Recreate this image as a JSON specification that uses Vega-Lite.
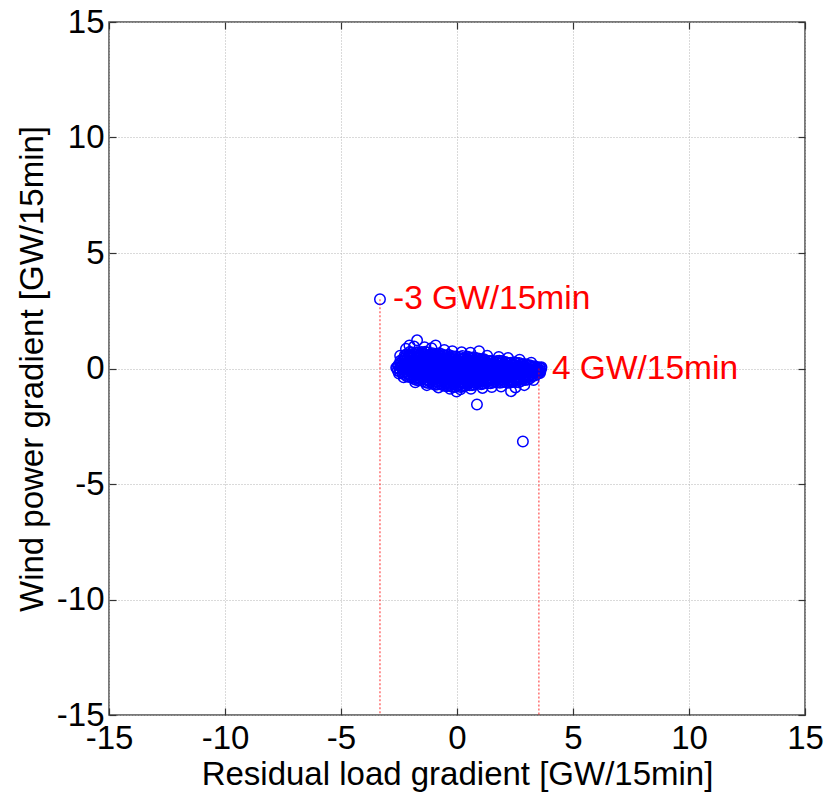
{
  "$schema": "https://vega.github.io/schema/vega-lite/v6.json",
  "width": 696,
  "height": 693,
  "autosize": {"type": "none"},
  "padding": {"left": 109, "top": 22, "right": 20, "bottom": 77},
  "background": "white",
  "config": {
    "view": {"stroke": "#4d4d4d", "strokeWidth": 1.5},
    "font": "Liberation Sans",
    "axis": {
      "labelFont": "Liberation Sans", "labelFontSize": 33, "labelColor": "black",
      "titleFont": "Liberation Sans", "titleFontSize": 33, "titleFontWeight": "normal", "titleColor": "black",
      "domain": false, "tickColor": "#333333", "tickSize": -7, "tickWidth": 1.2,
      "gridColor": "#b4b4b4", "gridDash": [1, 2], "gridWidth": 1,
      "labelOverlap": false, "labelFlush": false,
      "labelExpr": "'' + datum.value"
    }
  },
  "datasets": {
    "pts": [
      {"x":-2.55,"y":-0.1},{"x":-2.58,"y":0.02},{"x":-2.53,"y":0.14},
      {"x":-2.35,"y":-0.19},{"x":-2.32,"y":-0.07},{"x":-2.38,"y":0.05},{"x":-2.34,"y":0.17},{"x":-2.37,"y":0.29},{"x":-2.33,"y":0.41},
      {"x":-2.15,"y":-0.35},{"x":-2.12,"y":-0.23},{"x":-2.18,"y":-0.11},{"x":-2.14,"y":0.01},{"x":-2.17,"y":0.13},{"x":-2.13,"y":0.25},{"x":-2.16,"y":0.37},{"x":-2.12,"y":0.49},{"x":-2.18,"y":0.61},
      {"x":-1.95,"y":-0.39},{"x":-1.92,"y":-0.27},{"x":-1.98,"y":-0.15},{"x":-1.94,"y":-0.03},{"x":-1.97,"y":0.09},{"x":-1.93,"y":0.21},{"x":-1.96,"y":0.33},{"x":-1.92,"y":0.45},{"x":-1.98,"y":0.57},{"x":-1.95,"y":0.69},
      {"x":-1.75,"y":-0.5},{"x":-1.72,"y":-0.38},{"x":-1.78,"y":-0.26},{"x":-1.74,"y":-0.14},{"x":-1.77,"y":-0.02},{"x":-1.73,"y":0.1},{"x":-1.76,"y":0.22},{"x":-1.72,"y":0.34},{"x":-1.78,"y":0.46},{"x":-1.75,"y":0.58},{"x":-1.73,"y":0.7},
      {"x":-1.55,"y":-0.49},{"x":-1.52,"y":-0.37},{"x":-1.58,"y":-0.25},{"x":-1.54,"y":-0.13},{"x":-1.57,"y":-0.01},{"x":-1.53,"y":0.11},{"x":-1.56,"y":0.23},{"x":-1.52,"y":0.35},{"x":-1.58,"y":0.47},{"x":-1.55,"y":0.59},{"x":-1.53,"y":0.71},
      {"x":-1.35,"y":-0.6},{"x":-1.32,"y":-0.48},{"x":-1.38,"y":-0.36},{"x":-1.34,"y":-0.24},{"x":-1.37,"y":-0.12},{"x":-1.33,"y":0.0},{"x":-1.36,"y":0.12},{"x":-1.32,"y":0.24},{"x":-1.38,"y":0.36},{"x":-1.35,"y":0.48},{"x":-1.33,"y":0.6},{"x":-1.37,"y":0.72},
      {"x":-1.15,"y":-0.59},{"x":-1.12,"y":-0.47},{"x":-1.18,"y":-0.35},{"x":-1.14,"y":-0.23},{"x":-1.17,"y":-0.11},{"x":-1.13,"y":0.01},{"x":-1.16,"y":0.13},{"x":-1.12,"y":0.25},{"x":-1.18,"y":0.37},{"x":-1.15,"y":0.49},{"x":-1.13,"y":0.61},
      {"x":-0.95,"y":-0.7},{"x":-0.92,"y":-0.58},{"x":-0.98,"y":-0.46},{"x":-0.94,"y":-0.34},{"x":-0.97,"y":-0.22},{"x":-0.93,"y":-0.1},{"x":-0.96,"y":0.02},{"x":-0.92,"y":0.14},{"x":-0.98,"y":0.26},{"x":-0.95,"y":0.38},{"x":-0.93,"y":0.5},{"x":-0.97,"y":0.62},
      {"x":-0.75,"y":-0.66},{"x":-0.72,"y":-0.54},{"x":-0.78,"y":-0.42},{"x":-0.74,"y":-0.3},{"x":-0.77,"y":-0.18},{"x":-0.73,"y":-0.06},{"x":-0.76,"y":0.06},{"x":-0.72,"y":0.18},{"x":-0.78,"y":0.3},{"x":-0.75,"y":0.42},{"x":-0.73,"y":0.54},{"x":-0.77,"y":0.66},
      {"x":-0.55,"y":-0.75},{"x":-0.52,"y":-0.63},{"x":-0.58,"y":-0.51},{"x":-0.54,"y":-0.39},{"x":-0.57,"y":-0.27},{"x":-0.53,"y":-0.15},{"x":-0.56,"y":-0.03},{"x":-0.52,"y":0.09},{"x":-0.58,"y":0.21},{"x":-0.55,"y":0.33},{"x":-0.53,"y":0.45},{"x":-0.57,"y":0.57},
      {"x":-0.35,"y":-0.72},{"x":-0.32,"y":-0.6},{"x":-0.38,"y":-0.48},{"x":-0.34,"y":-0.36},{"x":-0.37,"y":-0.24},{"x":-0.33,"y":-0.12},{"x":-0.36,"y":0.0},{"x":-0.32,"y":0.12},{"x":-0.38,"y":0.24},{"x":-0.35,"y":0.36},{"x":-0.33,"y":0.48},{"x":-0.37,"y":0.6},
      {"x":-0.15,"y":-0.8},{"x":-0.12,"y":-0.68},{"x":-0.18,"y":-0.56},{"x":-0.14,"y":-0.44},{"x":-0.17,"y":-0.32},{"x":-0.13,"y":-0.2},{"x":-0.16,"y":-0.08},{"x":-0.12,"y":0.04},{"x":-0.18,"y":0.16},{"x":-0.15,"y":0.28},{"x":-0.13,"y":0.4},{"x":-0.17,"y":0.52},
      {"x":0.05,"y":-0.74},{"x":0.08,"y":-0.62},{"x":0.02,"y":-0.5},{"x":0.06,"y":-0.38},{"x":0.03,"y":-0.26},{"x":0.07,"y":-0.14},{"x":0.04,"y":-0.02},{"x":0.08,"y":0.1},{"x":0.02,"y":0.22},{"x":0.05,"y":0.34},{"x":0.07,"y":0.46},
      {"x":0.25,"y":-0.78},{"x":0.28,"y":-0.66},{"x":0.22,"y":-0.54},{"x":0.26,"y":-0.42},{"x":0.23,"y":-0.3},{"x":0.27,"y":-0.18},{"x":0.24,"y":-0.06},{"x":0.28,"y":0.06},{"x":0.22,"y":0.18},{"x":0.25,"y":0.3},{"x":0.27,"y":0.42},{"x":0.23,"y":0.54},
      {"x":0.45,"y":-0.69},{"x":0.48,"y":-0.57},{"x":0.42,"y":-0.45},{"x":0.46,"y":-0.33},{"x":0.43,"y":-0.21},{"x":0.47,"y":-0.09},{"x":0.44,"y":0.03},{"x":0.48,"y":0.15},{"x":0.42,"y":0.27},{"x":0.45,"y":0.39},{"x":0.47,"y":0.51},
      {"x":0.65,"y":-0.72},{"x":0.68,"y":-0.6},{"x":0.62,"y":-0.48},{"x":0.66,"y":-0.36},{"x":0.63,"y":-0.24},{"x":0.67,"y":-0.12},{"x":0.64,"y":0.0},{"x":0.68,"y":0.12},{"x":0.62,"y":0.24},{"x":0.65,"y":0.36},{"x":0.67,"y":0.48},
      {"x":0.85,"y":-0.64},{"x":0.88,"y":-0.52},{"x":0.82,"y":-0.4},{"x":0.86,"y":-0.28},{"x":0.83,"y":-0.16},{"x":0.87,"y":-0.04},{"x":0.84,"y":0.08},{"x":0.88,"y":0.2},{"x":0.82,"y":0.32},{"x":0.85,"y":0.44},
      {"x":1.05,"y":-0.68},{"x":1.08,"y":-0.56},{"x":1.02,"y":-0.44},{"x":1.06,"y":-0.32},{"x":1.03,"y":-0.2},{"x":1.07,"y":-0.08},{"x":1.04,"y":0.04},{"x":1.08,"y":0.16},{"x":1.02,"y":0.28},{"x":1.05,"y":0.4},
      {"x":1.25,"y":-0.6},{"x":1.28,"y":-0.48},{"x":1.22,"y":-0.36},{"x":1.26,"y":-0.24},{"x":1.23,"y":-0.12},{"x":1.27,"y":0.0},{"x":1.24,"y":0.12},{"x":1.28,"y":0.24},{"x":1.22,"y":0.36},
      {"x":1.45,"y":-0.64},{"x":1.48,"y":-0.52},{"x":1.42,"y":-0.4},{"x":1.46,"y":-0.28},{"x":1.43,"y":-0.16},{"x":1.47,"y":-0.04},{"x":1.44,"y":0.08},{"x":1.48,"y":0.2},{"x":1.42,"y":0.32},
      {"x":1.65,"y":-0.56},{"x":1.68,"y":-0.44},{"x":1.62,"y":-0.32},{"x":1.66,"y":-0.2},{"x":1.63,"y":-0.08},{"x":1.67,"y":0.04},{"x":1.64,"y":0.16},{"x":1.68,"y":0.28},
      {"x":1.85,"y":-0.62},{"x":1.88,"y":-0.5},{"x":1.82,"y":-0.38},{"x":1.86,"y":-0.26},{"x":1.83,"y":-0.14},{"x":1.87,"y":-0.02},{"x":1.84,"y":0.1},{"x":1.88,"y":0.22},{"x":1.82,"y":0.34},
      {"x":2.05,"y":-0.56},{"x":2.08,"y":-0.44},{"x":2.02,"y":-0.32},{"x":2.06,"y":-0.2},{"x":2.03,"y":-0.08},{"x":2.07,"y":0.04},{"x":2.04,"y":0.16},{"x":2.08,"y":0.28},
      {"x":2.25,"y":-0.62},{"x":2.28,"y":-0.5},{"x":2.22,"y":-0.38},{"x":2.26,"y":-0.26},{"x":2.23,"y":-0.14},{"x":2.27,"y":-0.02},{"x":2.24,"y":0.1},{"x":2.28,"y":0.22},
      {"x":2.45,"y":-0.56},{"x":2.48,"y":-0.44},{"x":2.42,"y":-0.32},{"x":2.46,"y":-0.2},{"x":2.43,"y":-0.08},{"x":2.47,"y":0.04},{"x":2.44,"y":0.16},{"x":2.48,"y":0.27},
      {"x":2.65,"y":-0.6},{"x":2.68,"y":-0.48},{"x":2.62,"y":-0.36},{"x":2.66,"y":-0.24},{"x":2.63,"y":-0.12},{"x":2.67,"y":0.0},{"x":2.64,"y":0.12},{"x":2.68,"y":0.24},
      {"x":2.85,"y":-0.49},{"x":2.88,"y":-0.37},{"x":2.82,"y":-0.25},{"x":2.86,"y":-0.13},{"x":2.83,"y":-0.01},{"x":2.87,"y":0.11},{"x":2.84,"y":0.2},
      {"x":3.05,"y":-0.48},{"x":3.08,"y":-0.36},{"x":3.02,"y":-0.24},{"x":3.06,"y":-0.12},{"x":3.03,"y":0.0},{"x":3.07,"y":0.12},
      {"x":3.25,"y":-0.32},{"x":3.28,"y":-0.2},{"x":3.22,"y":-0.08},{"x":3.26,"y":0.04},{"x":3.23,"y":0.1},
      {"x":3.45,"y":-0.25},{"x":3.48,"y":-0.13},{"x":3.42,"y":-0.01},{"x":3.46,"y":0.05},
      {"x":3.6,"y":-0.1},{"x":3.62,"y":0.0},
      {"x":-2.45,"y":-0.14},{"x":-2.47,"y":-0.02},{"x":-2.43,"y":0.1},{"x":-2.46,"y":0.22},{"x":-2.44,"y":0.34},
      {"x":-2.25,"y":-0.27},{"x":-2.27,"y":-0.15},{"x":-2.23,"y":-0.03},{"x":-2.26,"y":0.09},{"x":-2.24,"y":0.21},{"x":-2.27,"y":0.33},{"x":-2.23,"y":0.45},{"x":-2.25,"y":0.57},
      {"x":-2.05,"y":-0.37},{"x":-2.07,"y":-0.25},{"x":-2.03,"y":-0.13},{"x":-2.06,"y":-0.01},{"x":-2.04,"y":0.11},{"x":-2.07,"y":0.23},{"x":-2.03,"y":0.35},{"x":-2.05,"y":0.47},{"x":-2.06,"y":0.59},{"x":-2.04,"y":0.71},
      {"x":-1.85,"y":-0.45},{"x":-1.87,"y":-0.33},{"x":-1.83,"y":-0.21},{"x":-1.86,"y":-0.09},{"x":-1.84,"y":0.03},{"x":-1.87,"y":0.15},{"x":-1.83,"y":0.27},{"x":-1.85,"y":0.39},{"x":-1.86,"y":0.51},{"x":-1.84,"y":0.63},
      {"x":-1.65,"y":-0.51},{"x":-1.67,"y":-0.39},{"x":-1.63,"y":-0.27},{"x":-1.66,"y":-0.15},{"x":-1.64,"y":-0.03},{"x":-1.67,"y":0.09},{"x":-1.63,"y":0.21},{"x":-1.65,"y":0.33},{"x":-1.66,"y":0.45},{"x":-1.64,"y":0.57},{"x":-1.65,"y":0.69},
      {"x":-1.45,"y":-0.55},{"x":-1.47,"y":-0.43},{"x":-1.43,"y":-0.31},{"x":-1.46,"y":-0.19},{"x":-1.44,"y":-0.07},{"x":-1.47,"y":0.05},{"x":-1.43,"y":0.17},{"x":-1.45,"y":0.29},{"x":-1.46,"y":0.41},{"x":-1.44,"y":0.53},{"x":-1.45,"y":0.65},
      {"x":-1.25,"y":-0.63},{"x":-1.27,"y":-0.51},{"x":-1.23,"y":-0.39},{"x":-1.26,"y":-0.27},{"x":-1.24,"y":-0.15},{"x":-1.27,"y":-0.03},{"x":-1.23,"y":0.09},{"x":-1.25,"y":0.21},{"x":-1.26,"y":0.33},{"x":-1.24,"y":0.45},{"x":-1.25,"y":0.57},{"x":-1.26,"y":0.69},
      {"x":-1.05,"y":-0.66},{"x":-1.07,"y":-0.54},{"x":-1.03,"y":-0.42},{"x":-1.06,"y":-0.3},{"x":-1.04,"y":-0.18},{"x":-1.07,"y":-0.06},{"x":-1.03,"y":0.06},{"x":-1.05,"y":0.18},{"x":-1.06,"y":0.3},{"x":-1.04,"y":0.42},{"x":-1.05,"y":0.54},{"x":-1.06,"y":0.66},
      {"x":-0.85,"y":-0.69},{"x":-0.87,"y":-0.57},{"x":-0.83,"y":-0.45},{"x":-0.86,"y":-0.33},{"x":-0.84,"y":-0.21},{"x":-0.87,"y":-0.09},{"x":-0.83,"y":0.03},{"x":-0.85,"y":0.15},{"x":-0.86,"y":0.27},{"x":-0.84,"y":0.39},{"x":-0.85,"y":0.51},{"x":-0.86,"y":0.63},
      {"x":-0.65,"y":-0.7},{"x":-0.67,"y":-0.58},{"x":-0.63,"y":-0.46},{"x":-0.66,"y":-0.34},{"x":-0.64,"y":-0.22},{"x":-0.67,"y":-0.1},{"x":-0.63,"y":0.02},{"x":-0.65,"y":0.14},{"x":-0.66,"y":0.26},{"x":-0.64,"y":0.38},{"x":-0.65,"y":0.5},{"x":-0.66,"y":0.62},
      {"x":-0.45,"y":-0.77},{"x":-0.47,"y":-0.65},{"x":-0.43,"y":-0.53},{"x":-0.46,"y":-0.41},{"x":-0.44,"y":-0.29},{"x":-0.47,"y":-0.17},{"x":-0.43,"y":-0.05},{"x":-0.45,"y":0.07},{"x":-0.46,"y":0.19},{"x":-0.44,"y":0.31},{"x":-0.45,"y":0.43},{"x":-0.46,"y":0.55},
      {"x":-0.25,"y":-0.78},{"x":-0.27,"y":-0.66},{"x":-0.23,"y":-0.54},{"x":-0.26,"y":-0.42},{"x":-0.24,"y":-0.3},{"x":-0.27,"y":-0.18},{"x":-0.23,"y":-0.06},{"x":-0.25,"y":0.06},{"x":-0.26,"y":0.18},{"x":-0.24,"y":0.3},{"x":-0.25,"y":0.42},{"x":-0.26,"y":0.54},
      {"x":-0.05,"y":-0.79},{"x":-0.07,"y":-0.67},{"x":-0.03,"y":-0.55},{"x":-0.06,"y":-0.43},{"x":-0.04,"y":-0.31},{"x":-0.07,"y":-0.19},{"x":-0.03,"y":-0.07},{"x":-0.05,"y":0.05},{"x":-0.06,"y":0.17},{"x":-0.04,"y":0.29},{"x":-0.05,"y":0.41},{"x":-0.06,"y":0.52},
      {"x":0.15,"y":-0.8},{"x":0.13,"y":-0.68},{"x":0.17,"y":-0.56},{"x":0.14,"y":-0.44},{"x":0.16,"y":-0.32},{"x":0.13,"y":-0.2},{"x":0.17,"y":-0.08},{"x":0.15,"y":0.04},{"x":0.14,"y":0.16},{"x":0.16,"y":0.28},{"x":0.15,"y":0.4},{"x":0.14,"y":0.5},
      {"x":0.35,"y":-0.75},{"x":0.33,"y":-0.63},{"x":0.37,"y":-0.51},{"x":0.34,"y":-0.39},{"x":0.36,"y":-0.27},{"x":0.33,"y":-0.15},{"x":0.37,"y":-0.03},{"x":0.35,"y":0.09},{"x":0.34,"y":0.21},{"x":0.36,"y":0.33},{"x":0.35,"y":0.45},
      {"x":0.55,"y":-0.73},{"x":0.53,"y":-0.61},{"x":0.57,"y":-0.49},{"x":0.54,"y":-0.37},{"x":0.56,"y":-0.25},{"x":0.53,"y":-0.13},{"x":0.57,"y":-0.01},{"x":0.55,"y":0.11},{"x":0.54,"y":0.23},{"x":0.56,"y":0.35},{"x":0.55,"y":0.47},
      {"x":0.75,"y":-0.7},{"x":0.73,"y":-0.58},{"x":0.77,"y":-0.46},{"x":0.74,"y":-0.34},{"x":0.76,"y":-0.22},{"x":0.73,"y":-0.1},{"x":0.77,"y":0.02},{"x":0.75,"y":0.14},{"x":0.74,"y":0.26},{"x":0.76,"y":0.38},{"x":0.75,"y":0.48},
      {"x":0.95,"y":-0.66},{"x":0.93,"y":-0.54},{"x":0.97,"y":-0.42},{"x":0.94,"y":-0.3},{"x":0.96,"y":-0.18},{"x":0.93,"y":-0.06},{"x":0.97,"y":0.06},{"x":0.95,"y":0.18},{"x":0.94,"y":0.3},{"x":0.96,"y":0.42},
      {"x":1.15,"y":-0.65},{"x":1.13,"y":-0.53},{"x":1.17,"y":-0.41},{"x":1.14,"y":-0.29},{"x":1.16,"y":-0.17},{"x":1.13,"y":-0.05},{"x":1.17,"y":0.07},{"x":1.15,"y":0.19},{"x":1.14,"y":0.31},{"x":1.16,"y":0.4},
      {"x":1.35,"y":-0.63},{"x":1.33,"y":-0.51},{"x":1.37,"y":-0.39},{"x":1.34,"y":-0.27},{"x":1.36,"y":-0.15},{"x":1.33,"y":-0.03},{"x":1.37,"y":0.09},{"x":1.35,"y":0.21},{"x":1.34,"y":0.33},
      {"x":1.55,"y":-0.61},{"x":1.53,"y":-0.49},{"x":1.57,"y":-0.37},{"x":1.54,"y":-0.25},{"x":1.56,"y":-0.13},{"x":1.53,"y":-0.01},{"x":1.57,"y":0.11},{"x":1.55,"y":0.23},{"x":1.54,"y":0.33},
      {"x":1.75,"y":-0.6},{"x":1.73,"y":-0.48},{"x":1.77,"y":-0.36},{"x":1.74,"y":-0.24},{"x":1.76,"y":-0.12},{"x":1.73,"y":0.0},{"x":1.77,"y":0.12},{"x":1.75,"y":0.24},{"x":1.74,"y":0.33},
      {"x":1.95,"y":-0.6},{"x":1.93,"y":-0.48},{"x":1.97,"y":-0.36},{"x":1.94,"y":-0.24},{"x":1.96,"y":-0.12},{"x":1.93,"y":0.0},{"x":1.97,"y":0.12},{"x":1.95,"y":0.24},{"x":1.94,"y":0.32},
      {"x":2.15,"y":-0.6},{"x":2.13,"y":-0.47},{"x":2.17,"y":-0.35},{"x":2.14,"y":-0.23},{"x":2.16,"y":-0.11},{"x":2.13,"y":0.01},{"x":2.17,"y":0.13},{"x":2.15,"y":0.25},
      {"x":2.35,"y":-0.6},{"x":2.33,"y":-0.47},{"x":2.37,"y":-0.35},{"x":2.34,"y":-0.23},{"x":2.36,"y":-0.11},{"x":2.33,"y":0.01},{"x":2.37,"y":0.13},{"x":2.35,"y":0.25},
      {"x":2.55,"y":-0.59},{"x":2.53,"y":-0.46},{"x":2.57,"y":-0.34},{"x":2.54,"y":-0.22},{"x":2.56,"y":-0.1},{"x":2.53,"y":0.02},{"x":2.57,"y":0.14},{"x":2.55,"y":0.25},
      {"x":2.75,"y":-0.55},{"x":2.73,"y":-0.43},{"x":2.77,"y":-0.31},{"x":2.74,"y":-0.19},{"x":2.76,"y":-0.07},{"x":2.73,"y":0.05},{"x":2.77,"y":0.17},
      {"x":2.95,"y":-0.5},{"x":2.93,"y":-0.38},{"x":2.97,"y":-0.26},{"x":2.94,"y":-0.14},{"x":2.96,"y":-0.02},{"x":2.93,"y":0.1},{"x":2.97,"y":0.18},
      {"x":3.15,"y":-0.42},{"x":3.13,"y":-0.3},{"x":3.17,"y":-0.18},{"x":3.14,"y":-0.06},{"x":3.16,"y":0.06},{"x":3.13,"y":0.14},
      {"x":3.35,"y":-0.3},{"x":3.33,"y":-0.18},{"x":3.37,"y":-0.06},{"x":3.34,"y":0.06},{"x":3.36,"y":0.1},
      {"x":3.53,"y":-0.18},{"x":3.51,"y":-0.06},{"x":3.55,"y":0.04},
      {"x":-2.62,"y":0.03},{"x":-2.45,"y":0.55},{"x":-2.2,"y":0.85},{"x":-2.05,"y":1.0},{"x":-1.85,"y":0.95},{"x":-1.72,"y":1.22},{"x":-1.4,"y":0.92},{"x":-1.1,"y":0.88},{"x":-0.92,"y":1.0},{"x":-0.55,"y":0.8},{"x":-0.2,"y":0.75},{"x":0.2,"y":0.7},{"x":0.58,"y":0.68},{"x":0.95,"y":0.75},{"x":1.3,"y":0.55},{"x":1.8,"y":0.5},{"x":2.2,"y":0.45},{"x":2.7,"y":0.38},{"x":3.2,"y":0.25},{"x":3.64,"y":0.05},{"x":3.58,"y":-0.2},{"x":3.3,"y":-0.5},{"x":2.9,"y":-0.72},{"x":2.52,"y":-0.82},{"x":2.33,"y":-0.98},{"x":1.9,"y":-0.78},{"x":1.5,"y":-0.8},{"x":1.1,"y":-0.84},{"x":0.6,"y":-0.88},{"x":0.15,"y":-0.9},{"x":-0.02,"y":-1.0},{"x":-0.3,"y":-0.88},{"x":-0.8,"y":-0.82},{"x":-1.3,"y":-0.72},{"x":-1.8,"y":-0.6},{"x":-2.3,"y":-0.38},{"x":-2.5,"y":-0.22},
      {"x":0.86,"y":-1.56},{"x":2.84,"y":-3.16},{"x":-3.32,"y":3.0}
    ],
    "marks": [
      {"x": -3.32, "y": 3.0, "y2": -15, "label": "-3 GW/15min"},
      {"x": 3.53, "y": 0.0, "y2": -15, "label": "4 GW/15min"}
    ]
  },
  "resolve": {"axis": {"x": "independent", "y": "independent"}},
  "layer": [
    {
      "data": {"name": "pts"},
      "mark": {"type": "point", "shape": "circle", "filled": false, "color": "#0000ff", "size": 110, "strokeWidth": 1.5, "opacity": 1},
      "encoding": {
        "x": {"field": "x", "type": "quantitative", "scale": {"domain": [-15, 15], "nice": false, "zero": false},
              "axis": {"orient": "bottom", "values": [-15, -10, -5, 0, 5, 10, 15], "title": "Residual load gradient [GW/15min]", "labelPadding": 14, "titlePadding": 3, "grid": true}},
        "y": {"field": "y", "type": "quantitative", "scale": {"domain": [-15, 15], "nice": false, "zero": false},
              "axis": {"orient": "left", "values": [-15, -10, -5, 0, 5, 10, 15], "title": "Wind power gradient [GW/15min]", "labelPadding": 12, "titlePadding": 7, "grid": true}}
      }
    },
    {
      "data": {"name": "marks"},
      "mark": {"type": "rule", "color": "#ff0000", "strokeDash": [2, 2], "strokeWidth": 1.2, "opacity": 0.7},
      "encoding": {
        "x": {"field": "x", "type": "quantitative", "axis": {"orient": "top", "values": [-15, -10, -5, 0, 5, 10, 15], "labels": false, "title": null, "grid": false}},
        "y": {"field": "y", "type": "quantitative", "axis": {"orient": "right", "values": [-15, -10, -5, 0, 5, 10, 15], "labels": false, "title": null, "grid": false}},
        "y2": {"field": "y2"}
      }
    },
    {
      "data": {"name": "marks"},
      "mark": {"type": "text", "align": "left", "baseline": "middle", "dx": 13, "fontSize": 33.5, "font": "Liberation Sans", "color": "#ff0000"},
      "encoding": {
        "x": {"field": "x", "type": "quantitative", "axis": null},
        "y": {"field": "y", "type": "quantitative", "axis": null},
        "text": {"field": "label"}
      }
    }
  ]
}
